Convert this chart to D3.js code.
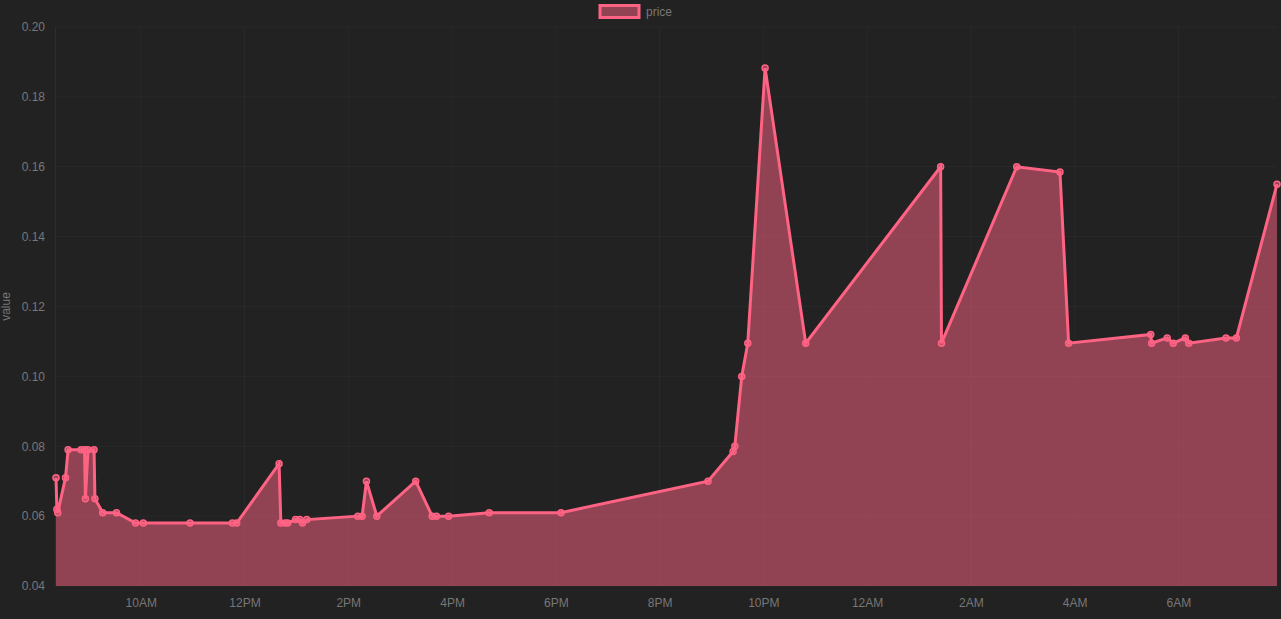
<!DOCTYPE html>
<html><head><meta charset="utf-8">
<script src="https://cdn.jsdelivr.net/npm/d3@7"></script>
<style>
html,body{margin:0;padding:0;background:#222222;}
svg{display:block;}
text{font-family:"Liberation Sans",Arial,sans-serif;}
</style></head>
<body><svg id="c" width="1281" height="619"></svg>
<script>
// ---- data ----
const seriesName = "price";
const times = ["08:22","08:23","08:24","08:33","08:36","08:51","08:55","08:56","08:59","09:06","09:07","09:16","09:32","09:54","10:03",
 "10:57","11:46","11:51","12:40","12:42","12:47","12:50","12:59","13:04","13:07","13:12",
 "14:11","14:16","14:21","14:33","15:18","15:37","15:42","15:56","16:43","18:06",
 "20:56","21:25","21:27","21:35","21:42","22:02","22:49",
 "01:25","01:26","02:53","03:43","03:53","05:28","05:29","05:47","05:54","06:08","06:12","06:55","07:07","07:54"];
const prices = [0.071,0.062,0.061,0.071,0.079,0.079,0.079,0.065,0.079,0.079,0.065,0.061,0.061,0.058,0.058,
 0.058,0.058,0.058,0.075,0.058,0.058,0.058,0.059,0.059,0.058,0.059,
 0.060,0.060,0.070,0.060,0.070,0.060,0.060,0.060,0.061,0.061,
 0.070,0.0785,0.080,0.100,0.1095,0.1883,0.1095,
 0.160,0.1095,0.160,0.1585,0.1095,0.112,0.1095,0.111,0.1095,0.111,0.1095,0.111,0.111,0.155];
const yTicks = [0.04,0.06,0.08,0.10,0.12,0.14,0.16,0.18,0.20];
const yTitle = "value";

// build dates: day 1 from 08:00, later hours roll into day 2
const data = times.map((t,i)=>{
  const [h,m] = t.split(":").map(Number);
  const day = h < 8 ? 2 : 1;
  return {date:new Date(2021,5,day,h,m), value:prices[i]};
});

const W=1281,H=619;
const m={left:56,right:4,top:27,bottom:33};
const svg=d3.select("#c");
const x=d3.scaleTime().domain(d3.extent(data,d=>d.date)).range([m.left,W-m.right]);
const y=d3.scaleLinear().domain([0.04,0.20]).range([H-m.bottom,m.top]);

const gridColor="rgba(255,255,255,0.03)";
const textColor="#777";
const lineColor="#ff6384";
const fillColor="rgba(255,99,132,0.5)";

// grid
const xt = x.ticks(d3.timeHour.every(2));
svg.append("g").selectAll("line").data(xt).join("line")
  .attr("x1",d=>x(d)).attr("x2",d=>x(d)).attr("y1",m.top).attr("y2",H-m.bottom)
  .attr("stroke",gridColor);
svg.append("g").selectAll("line").data(yTicks).join("line")
  .attr("x1",m.left).attr("x2",W-m.right).attr("y1",d=>y(d)).attr("y2",d=>y(d))
  .attr("stroke",gridColor);
svg.append("line").attr("x1",m.left-0.5).attr("x2",m.left-0.5).attr("y1",m.top).attr("y2",H-m.bottom)
  .attr("stroke","rgba(255,255,255,0.05)");

// axes
const yAxis=d3.axisLeft(y).tickValues(yTicks).tickFormat(d3.format(".2f")).tickSize(0).tickPadding(11);
const gy=svg.append("g").attr("transform",`translate(${m.left},0)`).call(yAxis);
gy.select(".domain").remove();
gy.selectAll("text").attr("fill",textColor).style("font-size","12px");

const xAxis=d3.axisBottom(x).ticks(d3.timeHour.every(2)).tickFormat(d3.timeFormat("%-I%p")).tickSize(0).tickPadding(12);
const gx=svg.append("g").attr("transform",`translate(0,${H-m.bottom})`).call(xAxis);
gx.select(".domain").remove();
gx.selectAll("text").attr("fill",textColor).style("font-size","12px");

svg.append("text").attr("transform",`translate(10,${(m.top+H-m.bottom)/2}) rotate(-90)`)
  .attr("text-anchor","middle").attr("fill",textColor).style("font-size","12px").text(yTitle);

// area + line
const area=d3.area().x(d=>x(d.date)).y0(y(0.04)).y1(d=>y(d.value));
svg.append("path").datum(data).attr("d",area).attr("fill",fillColor);
const line=d3.line().x(d=>x(d.date)).y(d=>y(d.value));
svg.append("path").datum(data).attr("d",line).attr("fill","none")
  .attr("stroke",lineColor).attr("stroke-width",3).attr("stroke-linejoin","miter");
svg.append("g").selectAll("circle").data(data).join("circle")
  .attr("cx",d=>x(d.date)).attr("cy",d=>y(d.value)).attr("r",3)
  .attr("fill",fillColor).attr("stroke",lineColor).attr("stroke-width",1.5);

// legend
const lg=svg.append("g");
lg.append("rect").attr("x",600).attr("y",5.5).attr("width",39).attr("height",12)
  .attr("fill",fillColor).attr("stroke",lineColor).attr("stroke-width",3);
lg.append("text").attr("x",646).attr("y",16).attr("fill",textColor).style("font-size","12px").text(seriesName);
</script></body></html>
